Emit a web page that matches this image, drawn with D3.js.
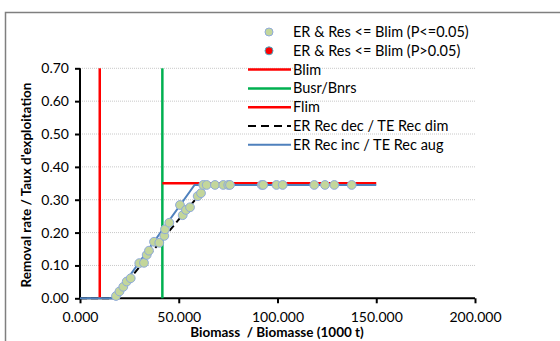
<!DOCTYPE html>
<html>
<head>
<meta charset="utf-8">
<script src="https://cdn.jsdelivr.net/npm/d3@7"></script>
<style>
  html, body { margin: 0; padding: 0; background: #fff; }
  svg { display: block; }
  text { font-family: Lato, "Open Sans", sans-serif; fill: #000; }
</style>
</head>
<body>
<svg id="chart" width="560" height="341"></svg>
<script>
// Stock status observations: biomass (t) and removal rate
const obsBiomass = [18230, 20000, 21920, 23640, 25670, 30020, 32400, 33770, 34930, 37470,
  40150, 42680, 43030, 45210, 50630, 52000, 53670, 55700, 59590, 61260,
  62430, 64150, 68350, 72550, 75080, 75950, 91990, 92800, 99490, 102620,
  118620, 124040, 128760, 137560];
const obsRate = [0.007, 0.021, 0.035, 0.051, 0.061, 0.107, 0.108, 0.132, 0.145, 0.172,
  0.169, 0.190, 0.210, 0.230, 0.284, 0.253, 0.269, 0.277, 0.311, 0.320,
  0.345, 0.345, 0.345, 0.345, 0.345, 0.345, 0.345, 0.345, 0.345, 0.345,
  0.345, 0.345, 0.345, 0.345];

// Reference points
const blim = 10000;
const busr = 41700;
const flim = 0.35;
const flimRange = [41700, 150000];

// Harvest control rule: removal rate decreasing / increasing
const ruleDecBiomass = [0, 17000, 64500, 150000];
const ruleDecRate = [0, 0, 0.345, 0.345];
const ruleIncBiomass = [0, 17000, 58000, 150000];
const ruleIncRate = [0, 0, 0.345, 0.345];

// Axis ticks
const xTicks = [0, 50000, 100000, 150000, 200000];
const yTicks = [0, 0.1, 0.2, 0.3, 0.4, 0.5, 0.6, 0.7];

const legendLabels = ["ER & Res <= Blim (P<=0.05)", "ER & Res <= Blim (P>0.05)", "Blim",
  "Busr/Bnrs", "Flim", "ER Rec dec / TE Rec dim", "ER Rec inc / TE Rec aug"];

const svg = d3.select("#chart");

// outer frame
svg.append("rect").attr("x", 5.5).attr("y", 12.5).attr("width", 700).attr("height", 500)
  .attr("fill", "#fff").attr("stroke", "#7f7f7f").attr("stroke-width", 1.5);

const x = d3.scaleLinear().domain([0, 200000]).range([80, 475]);
const y = d3.scaleLinear().domain([0, 0.7]).range([298.3, 68.3]);

// gridlines
svg.append("g").selectAll("line").data(yTicks.filter(d => d > 0)).join("line")
  .attr("x1", x(0)).attr("x2", x(200000))
  .attr("y1", d => y(d)).attr("y2", d => y(d))
  .attr("stroke", "#c8c8c8").attr("stroke-width", 1).attr("stroke-dasharray", "1,1");

// axes
const xAxis = svg.append("g").attr("transform", `translate(0,${y(0)})`)
  .call(d3.axisBottom(x).tickValues(xTicks).tickSize(5).tickPadding(9)
    .tickFormat(d => d3.format(".3f")(d / 1000)));
const yAxis = svg.append("g").attr("transform", `translate(${x(0)},0)`)
  .call(d3.axisLeft(y).tickValues(yTicks).tickSize(5).tickPadding(6)
    .tickFormat(d3.format(".2f")));
[xAxis, yAxis].forEach(g => {
  g.select(".domain").attr("stroke", "#000").attr("stroke-width", 2);
  g.selectAll(".tick line").attr("stroke", "#000").attr("stroke-width", 2);
  g.selectAll(".tick text").attr("font-family", "Lato, sans-serif").attr("font-size", 14)
    .attr("fill", "#000");
});
xAxis.select(".domain").attr("d", `M${x(0)},0H${x(200000)}`);
yAxis.select(".domain").attr("d", `M0,${y(0.7)}V${y(0)}`);

// reference lines
svg.append("line").attr("x1", x(blim)).attr("x2", x(blim)).attr("y1", y(0)).attr("y2", y(0.7))
  .attr("stroke", "#ff0000").attr("stroke-width", 2.5);
svg.append("line").attr("x1", x(busr)).attr("x2", x(busr)).attr("y1", y(0)).attr("y2", y(0.7))
  .attr("stroke", "#00b050").attr("stroke-width", 2.5);
svg.append("line").attr("x1", x(flimRange[0])).attr("x2", x(flimRange[1]))
  .attr("y1", y(flim)).attr("y2", y(flim))
  .attr("stroke", "#ff0000").attr("stroke-width", 2.5);

const line = d3.line().x(d => x(d[0])).y(d => y(d[1]));
svg.append("path").datum(d3.zip(ruleDecBiomass, ruleDecRate)).attr("d", line)
  .attr("fill", "none").attr("stroke", "#000").attr("stroke-width", 2)
  .attr("stroke-dasharray", "7,4");
svg.append("path").datum(d3.zip(ruleIncBiomass, ruleIncRate)).attr("d", line)
  .attr("fill", "none").attr("stroke", "#4f81bd").attr("stroke-width", 2);

// observations
svg.append("g").selectAll("circle").data(d3.zip(obsBiomass, obsRate)).join("circle")
  .attr("cx", d => x(d[0])).attr("cy", d => y(d[1])).attr("r", 4.4)
  .attr("fill", "#c3d69b").attr("stroke", "#8eaadb").attr("stroke-width", 1);

// legend
const lg = svg.append("g");
const rowY = i => 32 + i * 18.8;
lg.append("circle").attr("cx", 269).attr("cy", rowY(0)).attr("r", 4)
  .attr("fill", "#c3d69b").attr("stroke", "#8eaadb");
lg.append("circle").attr("cx", 269).attr("cy", rowY(1)).attr("r", 4)
  .attr("fill", "#ff0000").attr("stroke", "#4bacc6");
const legLines = [
  { i: 2, c: "#ff0000", dash: null, w: 2.5 },
  { i: 3, c: "#00b050", dash: null, w: 2.5 },
  { i: 4, c: "#ff0000", dash: null, w: 2.5 },
  { i: 5, c: "#000", dash: "8,5", w: 2 },
  { i: 6, c: "#4f81bd", dash: null, w: 2 }
];
legLines.forEach(l => {
  lg.append("line").attr("x1", 248).attr("x2", 291).attr("y1", rowY(l.i)).attr("y2", rowY(l.i))
    .attr("stroke", l.c).attr("stroke-width", l.w).attr("stroke-dasharray", l.dash);
});
lg.selectAll("text").data(legendLabels).join("text")
  .attr("x", 293).attr("y", (d, i) => rowY(i)).attr("dy", "0.35em")
  .attr("font-size", 14.5).text(d => d);

// axis titles
svg.append("text").attr("x", 277).attr("y", 337).attr("text-anchor", "middle")
  .attr("font-size", 13.5).attr("font-weight", "bold").attr("xml:space", "preserve")
  .style("white-space", "pre").text("Biomass  / Biomasse (1000 t)");
svg.append("text").attr("transform", "translate(31,185) rotate(-90)").attr("text-anchor", "middle")
  .attr("font-size", 13.5).attr("font-weight", "bold").text("Removal rate / Taux d'exploitation");
</script>
</body>
</html>
